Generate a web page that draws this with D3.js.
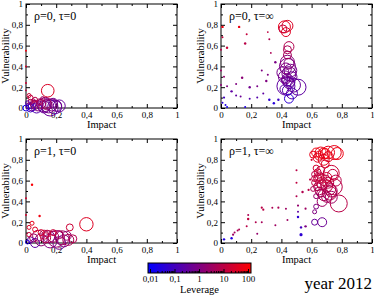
<!DOCTYPE html>
<html><head><meta charset="utf-8">
<script src="https://cdn.jsdelivr.net/npm/d3@7"></script>
<style>
body{margin:0;background:#fff;}
svg{display:block;}
svg text{font-family:"Liberation Serif","Times New Roman",serif;}
</style></head>
<body>
<svg id="c" width="374" height="296"></svg>
<script>
// ---- data ----
const panelTitles = ["ρ=0, τ=0", "ρ=0, τ=∞", "ρ=1, τ=0", "ρ=1, τ=∞"];
const axisTicks = [0, 0.2, 0.4, 0.6, 0.8, 1];
const minorTicks = [0.1, 0.3, 0.5, 0.7, 0.9];
const leverageTicks = [0.01, 0.1, 1, 10, 100];
const leverageTickLabels = ["0,01", "0,1", "1", "10", "100"];
const yearLabel = "year 2012";

// panel 1: rho=0, tau=0
const p1Impact = [0.00,0.00,0.00,0.00,0.02,0.03,0.05,0.144,0.02,0.04,0.06,0.08,0.10,0.12,0.13,0.15,0.16,0.14,0.17,0.19,0.20,0.06,0.09,0.01,0.00,0.03,0.11,0.07,0.18,0.05,0.22,0.12,0.03];
const p1Vuln   = [0.55,0.40,0.24,0.17,0.12,0.10,0.07,0.166,0.02,0.01,0.03,0.02,0.04,0.01,0.05,0.02,0.00,0.03,0.03,0.01,0.02,0.08,0.06,0.05,0.00,0.00,0.09,0.00,0.05,0.04,0.02,0.03,0.06];
const p1Weight = [1,1,1,0.8,4,6,3,40,9,16,20,25,20,36,30,49,64,25,36,49,30,6,9,4,9,16,4,25,20,12,36,49,6];
const p1Lev    = [60,20,15,10,15,10,5,25,0.3,0.5,2,1,3,0.5,4,0.8,0.4,2,1,0.3,0.6,8,5,0.2,0.03,0.1,3,0.2,0.7,1.5,0.4,0.6,6];

// panel 2: rho=0, tau=inf
const p2Impact = [0.01,0.12,0.17,0.16,0.31,0.32,0.33,0.04,0.01,0.00,0.00,0.02,0.00,0.04,0.07,0.14,0.10,0.02,0.04,0.27,0.30,0.19,0.24,0.19,0.24,0.28,0.32,0.35,0.38,0.16,0.36,0.31,0.10,0.13,0.01,0.03,
  0.42,0.44,0.43,0.41,0.45,0.44,0.44,0.44,0.45,0.44,0.43,0.44,0.51,0.47,0.45,0.46,0.42,0.45,0.44,0.47,0.43,0.46,0.41,0.48,0.43,0.45,0.42];
const p2Vuln   = [0.78,0.78,0.71,0.62,0.73,0.66,0.53,0.58,0.68,0.56,0.36,0.30,0.22,0.21,0.16,0.29,0.23,0.10,0.01,0.36,0.26,0.20,0.21,0.09,0.10,0.14,0.08,0.045,0.08,0.01,0.44,0.32,0.12,0.11,0.05,0.03,
  0.78,0.79,0.73,0.76,0.59,0.56,0.51,0.40,0.33,0.27,0.21,0.44,0.20,0.14,0.09,0.36,0.30,0.24,0.17,0.30,0.38,0.25,0.34,0.22,0.27,0.43,0.18];
const p2Weight = [1.5,1.5,1,1.5,0.6,1,0.6,1.5,1,1,1,1,1,1,1.5,1.5,1,1.2,1,1,1.5,1.5,1,1,1,1,1.5,1.5,1.5,1,1.5,1,1,1,1,1,
  36,30,20,16,25,16,16,64,49,36,81,49,64,30,20,40,36,30,25,25,30,20,36,49,16,25,20];
const p2Lev    = [60,50,12,8,10,6,5,15,12,8,3,2,1.5,1,0.3,1.5,1,0.1,0.02,1,1,0.6,0.8,0.2,0.2,0.3,0.05,0.04,0.08,0.03,0.8,1,0.3,0.5,0.05,0.03,
  40,25,30,15,6,5,4,0.8,0.6,0.5,0.3,1.2,0.3,0.2,0.05,0.7,0.6,0.4,0.2,0.5,1,0.3,0.7,0.4,0.6,1.2,0.3];

// panel 3: rho=1, tau=0
const p3Impact = [0.04,0.00,0.00,0.09,0.40,0.04,0.02,0.06,0.29,0.10,0.14,0.18,0.22,0.01,0.03,0.05,0.08,0.10,0.13,0.16,0.20,0.24,0.25,0.28,0.22,0.06,0.12,0.02,0.18,0.31,0.27,0.15];
const p3Vuln   = [0.56,0.43,0.27,0.26,0.18,0.19,0.15,0.13,0.15,0.10,0.09,0.10,0.08,0.01,0.03,0.05,0.07,0.03,0.05,0.02,0.04,0.05,0.02,0.03,0.00,0.00,0.08,0.08,0.06,0.04,0.07,0.06];
const p3Weight = [1.5,1,1,1.5,45,4,4,6,12,9,12,9,16,4,9,16,30,36,25,49,70,49,36,30,40,20,20,5,30,16,20,36];
const p3Lev    = [80,20,20,60,30,40,25,30,15,20,10,15,5,0.03,0.5,3,5,2,8,1,2,3,1,5,0.7,0.3,10,15,4,6,2,1.5];

// panel 4: rho=1, tau=inf
const p4Impact = [0.02,0.07,0.08,0.09,0.11,0.12,0.17,0.18,0.18,0.23,0.24,0.27,0.28,0.27,0.36,0.38,0.34,0.43,0.44,0.50,0.50,0.50,0.51,0.51,0.51,0.54,0.53,0.53,0.56,0.56,0.58,0.59,0.60,
  0.63,0.66,0.69,0.71,0.75,0.77,0.67,0.62,0.63,0.63,0.78,0.75,0.73,0.68,0.64,0.66,0.70,0.65,0.62,0.68,0.72,0.64,0.70,0.66,0.62,0.73,0.67,0.61,0.64,0.71,0.69,0.62,0.76,
  0.65,0.67,0.69,0.72,0.74,0.63,0.66,0.70,0.68,0.61,0.65,0.71,0.64,0.67,0.73,0.62];
const p4Vuln   = [0.035,0.045,0.08,0.10,0.12,0.13,0.16,0.23,0.27,0.20,0.09,0.34,0.32,0.20,0.17,0.34,0.34,0.33,0.22,0.70,0.58,0.45,0.36,0.30,0.25,0.49,0.15,0.08,0.16,0.33,0.51,0.61,0.80,
  0.87,0.87,0.86,0.87,0.87,0.86,0.20,0.20,0.35,0.45,0.38,0.54,0.67,0.80,0.62,0.58,0.55,0.50,0.58,0.46,0.48,0.68,0.63,0.70,0.66,0.44,0.40,0.52,0.82,0.83,0.76,0.30,0.60,
  0.64,0.56,0.60,0.52,0.66,0.72,0.48,0.44,0.86,0.85,0.84,0.58,0.54,0.62,0.50,0.62];
const p4Weight = [1.5,1.5,1.2,1,1,1,1,1.5,1,1,1,1.2,1.2,1,1,1.2,1,1,1,1,1,1,1.2,1,1.5,1.5,1.5,2.5,1.5,1.2,1.2,1.2,1.2,
  20,30,25,40,49,36,20,9,6,6,72,64,64,30,16,25,36,16,9,30,49,12,25,16,9,36,25,6,20,25,16,4,30,
  20,25,30,36,25,9,16,25,30,12,20,30,16,20,36,9];
const p4Lev    = [0.03,0.03,3,4,5,5,8,10,5,6,2,8,8,4,3,5,5,3,3,8,10,6,2,0.3,0.05,6,0.1,0.05,1,3,8,10,20,
  60,50,70,40,45,55,0.5,0.4,1,2,8,8,15,40,15,10,12,6,10,5,6,12,20,10,8,3,3,5,30,35,25,1,8,
  12,8,10,6,12,20,5,4,50,40,45,8,6,12,5,10];

const leverageDomain = [0.01, 100];

// ---- drawing ----
const FONT = "Liberation Serif";
const svg = d3.select("#c");
const W = 151, H = 104;
const panels = [
  {x: 26,  y: 4,   imp: p1Impact, vul: p1Vuln, w: p1Weight, lev: p1Lev},
  {x: 221, y: 4,   imp: p2Impact, vul: p2Vuln, w: p2Weight, lev: p2Lev},
  {x: 26,  y: 139, imp: p3Impact, vul: p3Vuln, w: p3Weight, lev: p3Lev},
  {x: 221, y: 139, imp: p4Impact, vul: p4Vuln, w: p4Weight, lev: p4Lev}
];
const logL = d3.scaleLog().domain(leverageDomain).range([0, 1]).clamp(true);
const colorOf = v => d3.interpolateRgb("#0000ff", "#ff0000")(logL(v));
const rScale = d3.scaleSqrt().domain([0, 100]).range([0, 10]);
const fmt = d => d === 0 ? "0" : d === 1 ? "1" : d3.format(".1f")(d).replace(".", ",");

const styleAxis = (sel) => {
  sel.attr("font-family", FONT);
  sel.select(".domain").remove();
  sel.selectAll("line").attr("stroke", "#000");
  sel.selectAll("text").attr("font-family", FONT).attr("font-size", 9).attr("fill", "#000");
};

panels.forEach((p, i) => {
  const g = svg.append("g").attr("transform", `translate(${p.x},${p.y})`);
  const x = d3.scaleLinear().domain([0, 1]).range([0, W]);
  const y = d3.scaleLinear().domain([0, 1]).range([H, 0]);

  const pts = p.imp.map((v, k) => ({ix: v, vu: p.vul[k], w: p.w[k], l: p.lev[k]}))
    .sort((a, b) => b.w - a.w);

  g.append("rect").attr("width", W).attr("height", H).attr("fill", "none").attr("stroke", "#000").attr("stroke-width", 1);

  // major ticks
  g.append("g").attr("transform", `translate(0,${H})`)
    .call(d3.axisBottom(x).tickValues(axisTicks).tickSize(-4).tickPadding(4).tickFormat(fmt)).call(styleAxis);
  g.append("g").call(d3.axisLeft(y).tickValues(axisTicks).tickSize(-4).tickPadding(3).tickFormat(fmt)).call(styleAxis);
  g.append("g").call(d3.axisTop(x).tickValues(axisTicks).tickSize(-4).tickFormat("")).call(styleAxis);
  g.append("g").attr("transform", `translate(${W},0)`)
    .call(d3.axisRight(y).tickValues(axisTicks).tickSize(-4).tickFormat("")).call(styleAxis);
  // minor ticks
  g.append("g").attr("transform", `translate(0,${H})`)
    .call(d3.axisBottom(x).tickValues(minorTicks).tickSize(-2).tickFormat("")).call(styleAxis);
  g.append("g").call(d3.axisLeft(y).tickValues(minorTicks).tickSize(-2).tickFormat("")).call(styleAxis);
  g.append("g").call(d3.axisTop(x).tickValues(minorTicks).tickSize(-2).tickFormat("")).call(styleAxis);
  g.append("g").attr("transform", `translate(${W},0)`)
    .call(d3.axisRight(y).tickValues(minorTicks).tickSize(-2).tickFormat("")).call(styleAxis);

  g.selectAll("circle.pt").data(pts).join("circle").attr("class", "pt")
    .attr("cx", d => x(d.ix)).attr("cy", d => y(d.vu))
    .attr("r", d => Math.max(0.9, rScale(d.w)))
    .attr("fill", d => d.w <= 2.5 ? colorOf(d.l) : "none")
    .attr("stroke", d => d.w <= 2.5 ? "none" : colorOf(d.l))
    .attr("stroke-width", 1);

  // axis titles
  g.append("text").attr("x", W / 2).attr("y", H + 20).attr("text-anchor", "middle")
    .attr("font-family", FONT).attr("font-size", 10.5).text("Impact");
  g.append("text").attr("transform", `translate(-17,${H / 2}) rotate(-90)`).attr("text-anchor", "middle")
    .attr("font-family", FONT).attr("font-size", 10.5).text("Vulnerability");
  g.append("text").attr("x", 8).attr("y", 16).attr("font-family", FONT).attr("font-size", 12).text(panelTitles[i]);
});

// ---- color bar ----
const cb = {x0: 148, x1: 251, y0: 263, h: 10};
const cbScale = d3.scaleLog().domain(leverageDomain).range([cb.x0 + 2, cb.x1 - 3]);
const defs = svg.append("defs");
const grad = defs.append("linearGradient").attr("id", "lg");
d3.range(0, 1.0001, 0.1).forEach(t => {
  grad.append("stop").attr("offset", t).attr("stop-color", d3.interpolateRgb("#0000ff", "#ff0000")(t));
});
svg.append("rect").attr("x", cb.x0).attr("y", cb.y0).attr("width", cb.x1 - cb.x0).attr("height", cb.h)
  .attr("fill", "url(#lg)").attr("stroke", "#000").attr("stroke-width", 1);
const minorLev = [];
[0.01, 0.1, 1, 10].forEach(b => { for (let m = 2; m <= 9; m++) minorLev.push(b * m); });
const cbAxis = svg.append("g").attr("transform", `translate(0,${cb.y0 + cb.h})`);
cbAxis.call(d3.axisBottom(cbScale).tickValues(leverageTicks).tickSize(-4).tickPadding(3)
  .tickFormat((d, k) => leverageTickLabels[k])).call(styleAxis);
const cbMinor = svg.append("g").attr("transform", `translate(0,${cb.y0 + cb.h})`);
cbMinor.call(d3.axisBottom(cbScale).tickValues(minorLev).tickSize(-2).tickFormat("")).call(styleAxis);
svg.append("text").attr("x", (cb.x0 + cb.x1) / 2).attr("y", 293).attr("text-anchor", "middle")
  .attr("font-family", FONT).attr("font-size", 10.5).text("Leverage");
svg.append("text").attr("x", 372).attr("y", 289).attr("text-anchor", "end")
  .attr("font-family", FONT).attr("font-size", 17).text(yearLabel);
</script>
</body></html>
